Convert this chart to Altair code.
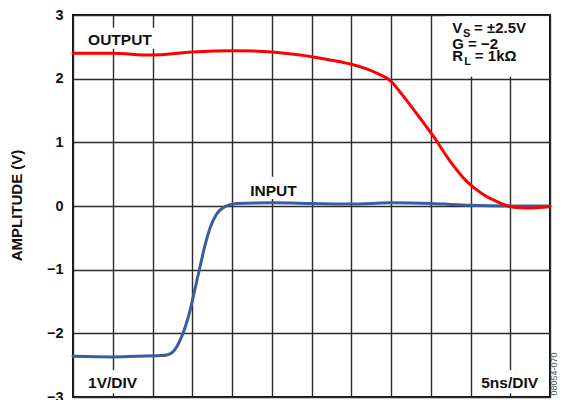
import altair as alt
import pandas as pd

# ---- data (time in ns, 5 ns per division) ----
time_out_ns = [0, 5, 9.7, 15, 20, 25, 28.6, 30.2, 32.5, 34.9, 37.0, 38.0, 39.0,
               39.6, 40.3, 41.2, 43.3, 45.3, 47.4, 49.5, 51.6, 53.7, 55.4, 57.0, 60]
out_v = [2.40, 2.40, 2.37, 2.42, 2.44, 2.42, 2.37, 2.34, 2.29, 2.23, 2.15, 2.10,
         2.04, 2.00, 1.92, 1.78, 1.44, 1.10, 0.71, 0.39, 0.18, 0.05, -0.02, -0.03, -0.01]

time_in_ns = [0, 5, 8, 11, 11.8, 12.5, 13.05, 13.6, 14.2, 14.7, 15.35, 15.95,
              16.6, 17.25, 18.05, 19.1, 20.6, 25, 30, 35, 40, 45, 50, 55, 60]
in_v = [-2.36, -2.37, -2.36, -2.35, -2.34, -2.30, -2.21, -2.07, -1.87, -1.65,
        -1.30, -0.97, -0.62, -0.34, -0.13, -0.01, 0.04, 0.05, 0.04, 0.03, 0.05,
        0.04, 0.01, 0.0, 0.0]

series_names = ["INPUT", "OUTPUT"]
series_colors = ["#3a5da0", "#ff0000"]

grid_ns = list(range(0, 61, 5))
y_ticks = [-3, -2, -1, 0, 1, 2, 3]

# annotation labels (left aligned)
label_text = ["OUTPUT", "INPUT", "1V/DIV"]
label_x = [1.9, 22.3, 1.9]
label_y = [2.53, 0.157, -2.86]
# right-aligned label
rlabel_text = ["5ns/DIV"]
rlabel_x = [58.5]
rlabel_y = [-2.86]

# white boxes behind labels
box_x0 = [1.5, 22.0, 1.5, 50.8, 46.8]
box_x1 = [10.3, 28.6, 8.6, 58.9, 59.85]
box_y0 = [2.47, 0.11, -2.94, -2.94, 2.03]
box_y1 = [2.80, 0.46, -2.58, -2.58, 2.98]

# condition box text
cond_text = ["V", "= ±2.5V", "G = −2", "R", "= 1kΩ"]
cond_x = [47.7, 50.45, 47.7, 47.7, 50.55]
cond_y = [2.71, 2.71, 2.46, 2.28, 2.28]
sub_text = ["S", "L"]
sub_x = [49.05, 49.2]
sub_y = [2.66, 2.22]

FONT = "Liberation Sans"

df = pd.concat([
    pd.DataFrame({"t": time_in_ns, "v": in_v, "s": "INPUT", "o": range(len(in_v))}),
    pd.DataFrame({"t": time_out_ns, "v": out_v, "s": "OUTPUT", "o": range(len(out_v))}),
])

xscale = alt.Scale(domain=[0, 60], nice=False, zero=False)
yscale = alt.Scale(domain=[-3, 3], nice=False, zero=False)

xaxis = alt.Axis(values=grid_ns, grid=True, labels=False, ticks=False, domain=False,
                 title=None, gridColor="#2b2b2b", gridWidth=1.4, gridOpacity=1)
yaxis = alt.Axis(values=y_ticks, grid=True, ticks=False, domain=False,
                 gridColor="#2b2b2b", gridWidth=1.4, gridOpacity=1,
                 labelExpr="datum.value < 0 ? '−' + abs(datum.value) : '' + datum.value",
                 labelFont=FONT, labelFontWeight="bold", labelFontSize=14.5,
                 labelColor="#111", labelPadding=10,
                 title="AMPLITUDE (V)", titleFont=FONT, titleFontWeight="bold",
                 titleFontSize=15, titleColor="#111", titleX=-57, titleY=190,
                 titleAngle=270, titleAlign="center", titleBaseline="middle")


def X(field):
    return alt.X(field, scale=xscale, axis=xaxis)


def Y(field):
    return alt.Y(field, scale=yscale, axis=yaxis)


lines = alt.Chart(df).mark_line(interpolate="monotone", strokeWidth=3, strokeCap="round").encode(
    x=X("t:Q"),
    y=Y("v:Q"),
    color=alt.Color("s:N", scale=alt.Scale(domain=series_names, range=series_colors), legend=None),
    order="o:Q",
)

boxes = alt.Chart(pd.DataFrame({"x0": box_x0, "x1": box_x1, "y0": box_y0, "y1": box_y1})).mark_rect(
    fill="white").encode(
    x=X("x0:Q"), x2="x1:Q",
    y=Y("y0:Q"), y2="y1:Q",
)

labels = alt.Chart(pd.DataFrame({"x": label_x, "y": label_y, "txt": label_text})).mark_text(
    align="left", baseline="alphabetic", font=FONT, fontWeight="bold", fontSize=15.5, color="#111").encode(
    x=X("x:Q"), y=Y("y:Q"), text="txt:N")

rlabels = alt.Chart(pd.DataFrame({"x": rlabel_x, "y": rlabel_y, "txt": rlabel_text})).mark_text(
    align="right", baseline="alphabetic", font=FONT, fontWeight="bold", fontSize=15.5, color="#111").encode(
    x=X("x:Q"), y=Y("y:Q"), text="txt:N")

cond = alt.Chart(pd.DataFrame({"x": cond_x, "y": cond_y, "txt": cond_text})).mark_text(
    align="left", baseline="alphabetic", font=FONT, fontWeight="bold", fontSize=15, color="#111").encode(
    x=X("x:Q"), y=Y("y:Q"), text="txt:N")

subs = alt.Chart(pd.DataFrame({"x": sub_x, "y": sub_y, "txt": sub_text})).mark_text(
    align="left", baseline="alphabetic", font=FONT, fontWeight="bold", fontSize=11, color="#111").encode(
    x=X("x:Q"), y=Y("y:Q"), text="txt:N")

side = alt.Chart(pd.DataFrame({"txt": ["08054-070"]})).mark_text(
    angle=270, align="center", baseline="middle", font=FONT, fontSize=9, color="#555").encode(
    x=alt.value(481), y=alt.value(359), text="txt:N")

chart = alt.layer(boxes, lines, labels, rlabels, cond, subs, side).properties(
    width=477, height=382,
    autosize=alt.AutoSizeParams(type="none"),
    padding={"left": 65, "top": 7, "right": 10, "bottom": 3},
    background="white",
).configure_view(stroke="#111", strokeWidth=2)

chart.save("out.html", embed_options={"renderer": "svg", "actions": False})
